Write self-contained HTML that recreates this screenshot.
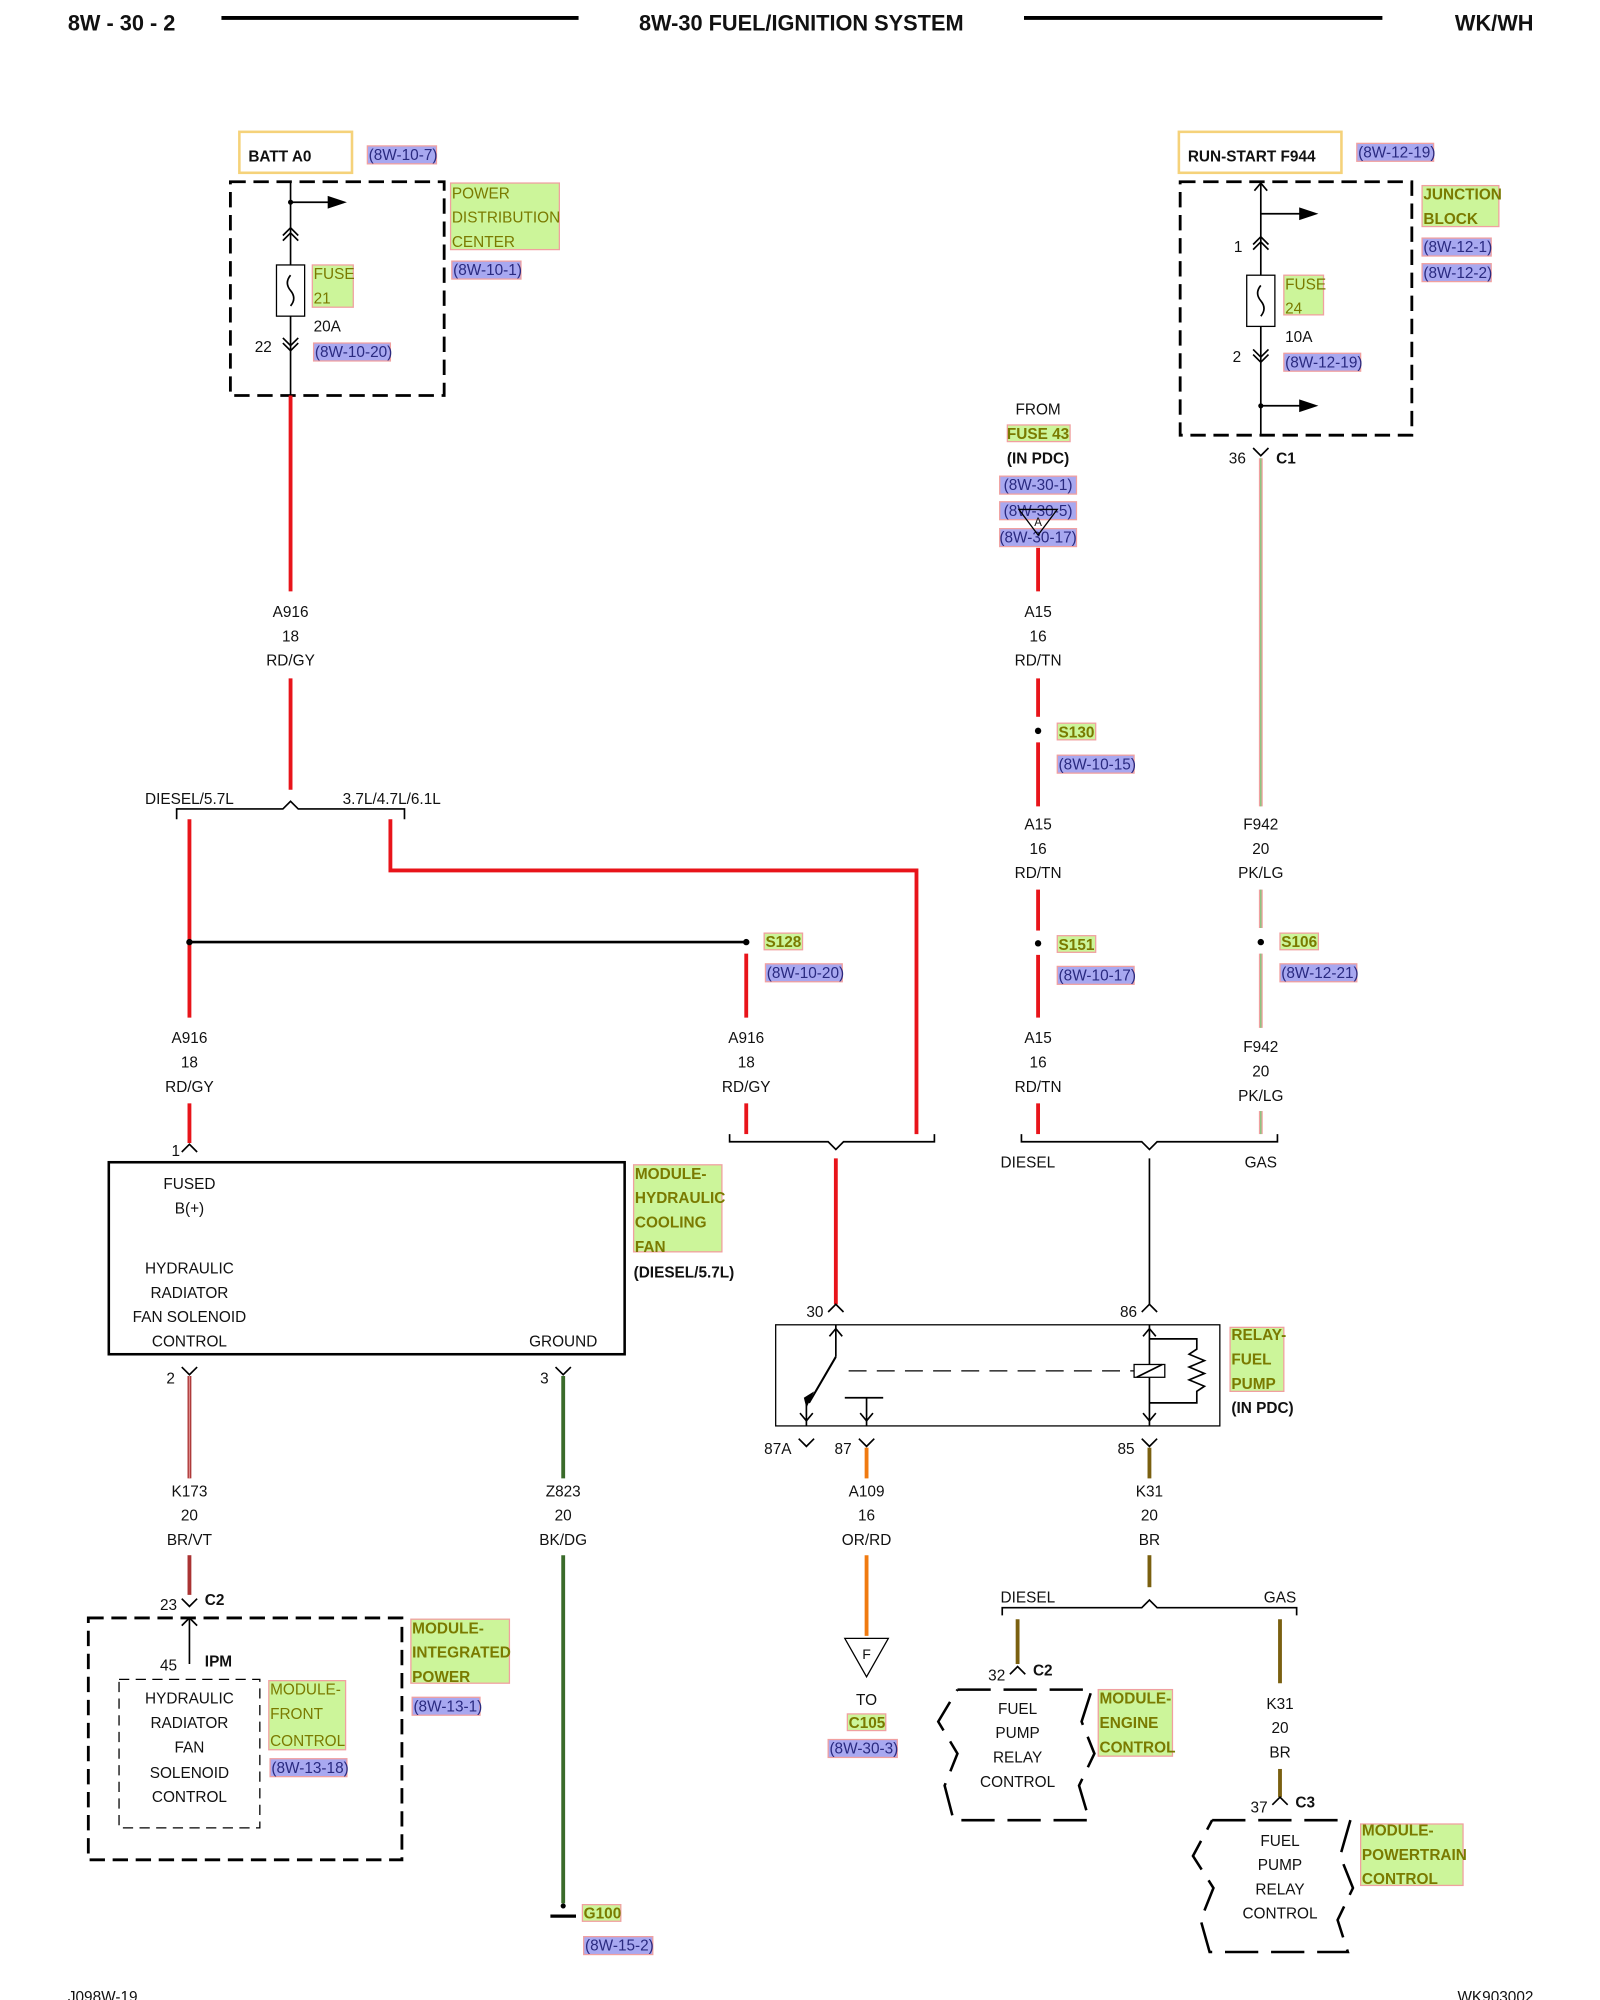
<!DOCTYPE html>
<html><head><meta charset="utf-8"><style>
html,body{margin:0;padding:0;background:#fff;}
svg{display:block;}
text{font-family:"Liberation Sans",sans-serif;font-size:12px;fill:#111;}
.b{font-weight:bold;}
.c{text-anchor:middle;}
.g{fill:#ccf59a;stroke:#f0a0a0;stroke-width:1;}
.p{fill:#a8a8f0;stroke:#f0a0a0;stroke-width:1;}
.gt{fill:#7a7a00;}
.pt{fill:#2a2a80;}
.blk{stroke:#000;stroke-width:1.3;fill:none;}
.dash{stroke:#000;stroke-width:2.2;fill:none;stroke-dasharray:12 6;}
.red{stroke:#e8141a;stroke-width:3;fill:none;}
</style></head><body>
<svg width="1600" height="2000" viewBox="0 0 1250 1562.5" xmlns="http://www.w3.org/2000/svg">
<!-- header -->
<text x="53" y="24" class="b" style="font-size:17px">8W - 30 - 2</text>
<line x1="173" y1="14" x2="452" y2="14" stroke="#000" stroke-width="3"/>
<text x="626" y="24" class="b c" style="font-size:17px">8W-30 FUEL/IGNITION SYSTEM</text>
<line x1="800" y1="14" x2="1080" y2="14" stroke="#000" stroke-width="3"/>
<text x="1198" y="24" class="b" style="font-size:17px;text-anchor:end">WK/WH</text>

<!-- LEFT TOP -->
<rect x="187" y="103" width="88" height="32" fill="none" stroke="#f5d27a" stroke-width="2"/>
<text x="194" y="126" class="b">BATT A0</text>
<rect x="287" y="114" width="54" height="14" class="p"/><text x="288" y="125" class="pt">(8W-10-7)</text>
<rect x="180" y="142" width="167" height="167" class="dash"/>
<rect x="352" y="143" width="85" height="52" class="g"/>
<text x="353" y="155" class="gt">POWER</text><text x="353" y="174" class="gt">DISTRIBUTION</text><text x="353" y="193" class="gt">CENTER</text>
<rect x="353" y="204" width="54" height="14" class="p"/><text x="354" y="215" class="pt">(8W-10-1)</text>
<line x1="227" y1="142" x2="227" y2="207" class="blk"/>
<line x1="227" y1="158" x2="260" y2="158" class="blk"/><polygon points="256,153 271,158 256,163"/>
<circle cx="227" cy="158" r="2"/>
<polyline points="221,184 227,178 233,184" class="blk"/><polyline points="221,188 227,182 233,188" class="blk"/>
<rect x="216" y="207" width="22" height="40" fill="#fff" stroke="#000"/>
<path d="M227 215 q-5 6 0 12 q5 6 0 12" class="blk"/>
<line x1="227" y1="247" x2="227" y2="309" class="blk"/>
<polyline points="221,264 227,270 233,264" class="blk"/><polyline points="221,268 227,274 233,268" class="blk"/>
<rect x="244" y="207" width="32" height="33" class="g"/><text x="245" y="218" class="gt">FUSE</text><text x="245" y="237" class="gt">21</text>
<text x="245" y="259">20A</text><text x="199" y="275">22</text>
<rect x="245" y="268" width="60" height="14" class="p"/><text x="246" y="279" class="pt">(8W-10-20)</text>

<line x1="227" y1="309" x2="227" y2="462" class="red"/>
<text x="227" y="482" class="c">A916</text><text x="227" y="501" class="c">18</text><text x="227" y="520" class="c">RD/GY</text>
<line x1="227" y1="530" x2="227" y2="617" class="red"/>
<polyline points="138,640 138,632 221,632 227,626 233,632 316,632 316,640" class="blk"/>
<text x="148" y="628" class="c">DIESEL/5.7L</text><text x="306" y="628" class="c">3.7L/4.7L/6.1L</text>
<line x1="148" y1="640" x2="148" y2="795" class="red"/>
<polyline points="305,640 305,680 716,680 716,886" class="red"/>
<line x1="148" y1="736" x2="583" y2="736" stroke="#000" stroke-width="2"/>
<circle cx="148" cy="736" r="2.5"/><circle cx="583" cy="736" r="2.5"/>
<rect x="597" y="729" width="30" height="13" class="g"/><text x="598" y="740" class="gt b">S128</text>
<rect x="598" y="753" width="60" height="14" class="p"/><text x="599" y="764" class="pt">(8W-10-20)</text>
<line x1="583" y1="745" x2="583" y2="795" class="red"/>
<text x="148" y="815" class="c">A916</text><text x="148" y="834" class="c">18</text><text x="148" y="853" class="c">RD/GY</text>
<text x="583" y="815" class="c">A916</text><text x="583" y="834" class="c">18</text><text x="583" y="853" class="c">RD/GY</text>
<line x1="148" y1="862" x2="148" y2="893" class="red"/>
<line x1="583" y1="862" x2="583" y2="886" class="red"/>
<polyline points="142,900 148,894 154,900" class="blk"/><text x="134" y="903">1</text>
<polyline points="570,886 570,892 647,892 653,898 659,892 730,892 730,886" class="blk"/>

<!-- hydraulic module -->
<rect x="85" y="908" width="403" height="150" fill="none" stroke="#000" stroke-width="2"/>
<text x="148" y="929" class="c">FUSED</text><text x="148" y="948" class="c">B(+)</text>
<text x="148" y="995" class="c">HYDRAULIC</text><text x="148" y="1014" class="c">RADIATOR</text>
<text x="148" y="1033" class="c">FAN SOLENOID</text><text x="148" y="1052" class="c">CONTROL</text>
<text x="440" y="1052" class="c">GROUND</text>
<rect x="495" y="910" width="69" height="68" class="g"/>
<text x="496" y="921" class="gt b">MODULE-</text><text x="496" y="940" class="gt b">HYDRAULIC</text><text x="496" y="959" class="gt b">COOLING</text><text x="496" y="978" class="gt b">FAN</text>
<text x="495" y="998" class="b">(DIESEL/5.7L)</text>

<polyline points="142,1068 148,1074 154,1068" class="blk"/><text x="130" y="1081">2</text>
<line x1="148" y1="1075" x2="148" y2="1155" stroke="#a33" stroke-width="3"/>
<line x1="148" y1="1075" x2="148" y2="1155" stroke="#d88" stroke-width="1"/>
<text x="148" y="1169" class="c">K173</text><text x="148" y="1188" class="c">20</text><text x="148" y="1207" class="c">BR/VT</text>
<line x1="148" y1="1215" x2="148" y2="1246" stroke="#a33" stroke-width="3"/>
<polyline points="142,1249 148,1255 154,1249" class="blk"/><text x="125" y="1258">23</text><text x="160" y="1254" class="b">C2</text>
<rect x="69" y="1264" width="245" height="189" class="dash"/>
<line x1="148" y1="1264" x2="148" y2="1300" class="blk"/><polyline points="142,1270 148,1264 154,1270" class="blk"/>
<text x="125" y="1305">45</text><text x="160" y="1302" class="b">IPM</text>
<rect x="93" y="1312" width="110" height="116" fill="none" stroke="#000" stroke-dasharray="8 5"/>
<text x="148" y="1331" class="c">HYDRAULIC</text><text x="148" y="1350" class="c">RADIATOR</text><text x="148" y="1369" class="c">FAN</text><text x="148" y="1389" class="c">SOLENOID</text><text x="148" y="1408" class="c">CONTROL</text>
<rect x="210" y="1313" width="60" height="54" class="g"/>
<text x="211" y="1324" class="gt">MODULE-</text><text x="211" y="1343" class="gt">FRONT</text><text x="211" y="1364" class="gt">CONTROL</text>
<rect x="211" y="1374" width="60" height="14" class="p"/><text x="212" y="1385" class="pt">(8W-13-18)</text>
<rect x="321" y="1265" width="77" height="50" class="g"/>
<text x="322" y="1276" class="gt b">MODULE-</text><text x="322" y="1295" class="gt b">INTEGRATED</text><text x="322" y="1314" class="gt b">POWER</text>
<rect x="322" y="1326" width="53" height="14" class="p"/><text x="323" y="1337" class="pt">(8W-13-1)</text>

<polyline points="434,1068 440,1074 446,1068" class="blk"/><text x="422" y="1081">3</text>
<line x1="440" y1="1075" x2="440" y2="1155" stroke="#3a6b2a" stroke-width="3"/>
<text x="440" y="1169" class="c">Z823</text><text x="440" y="1188" class="c">20</text><text x="440" y="1207" class="c">BK/DG</text>
<line x1="440" y1="1215" x2="440" y2="1487" stroke="#3a6b2a" stroke-width="3"/>
<line x1="430" y1="1497" x2="450" y2="1497" stroke="#000" stroke-width="2.5"/><circle cx="440" cy="1489" r="2"/>
<rect x="455" y="1488" width="30" height="13" class="g"/><text x="456" y="1499" class="gt b">G100</text>
<rect x="456" y="1513" width="54" height="14" class="p"/><text x="457" y="1524" class="pt">(8W-15-2)</text>

<!-- relay -->
<line x1="653" y1="905" x2="653" y2="1019" class="red"/>
<polyline points="647,1025 653,1019 659,1025" class="blk"/><text x="630" y="1029">30</text>
<line x1="898" y1="905" x2="898" y2="1019" class="blk"/>
<polyline points="892,1025 898,1019 904,1025" class="blk"/><text x="875" y="1029">86</text>
<polyline points="798,886 798,892 892,892 898,898 904,892 998,892 998,886" class="blk"/>
<text x="803" y="912" class="c">DIESEL</text><text x="985" y="912" class="c">GAS</text>
<rect x="606" y="1035" width="347" height="79" fill="none" stroke="#000"/>
<line x1="653" y1="1035" x2="653" y2="1060" class="blk"/><polyline points="648,1044 653,1038 658,1044" class="blk"/>
<line x1="653" y1="1060" x2="632" y2="1096" stroke="#000" stroke-width="1.6"/><polygon points="628,1092 636,1087 630,1100"/>
<line x1="630" y1="1096" x2="630" y2="1114" class="blk"/><polyline points="625,1104 630,1110 635,1104" class="blk"/>
<line x1="677" y1="1092" x2="677" y2="1114" class="blk"/><polyline points="672,1104 677,1110 682,1104" class="blk"/>
<line x1="660" y1="1092" x2="690" y2="1092" class="blk"/><circle cx="677" cy="1070" r="0"/>
<line x1="663" y1="1071" x2="886" y2="1071" stroke="#000" stroke-dasharray="14 8"/>
<line x1="898" y1="1035" x2="898" y2="1114" class="blk"/><polyline points="893,1044 898,1038 903,1044" class="blk"/><polyline points="893,1104 898,1110 903,1104" class="blk"/>
<rect x="886" y="1066" width="24" height="10" fill="#fff" stroke="#000"/><line x1="888" y1="1076" x2="908" y2="1066" class="blk"/>
<polyline points="898,1046 935,1046 935,1054 929,1058 941,1063 929,1068 941,1073 929,1078 941,1083 935,1087 935,1096 898,1096" class="blk"/>
<rect x="961" y="1037" width="42" height="50" class="g"/>
<text x="962" y="1047" class="gt b">RELAY-</text><text x="962" y="1066" class="gt b">FUEL</text><text x="962" y="1085" class="gt b">PUMP</text>
<text x="962" y="1104" class="b">(IN PDC)</text>
<polyline points="624,1124 630,1130 636,1124" class="blk"/><text x="597" y="1136">87A</text>
<polyline points="671,1124 677,1130 683,1124" class="blk"/><text x="652" y="1136">87</text>
<polyline points="892,1124 898,1130 904,1124" class="blk"/><text x="873" y="1136">85</text>
<line x1="677" y1="1131" x2="677" y2="1155" stroke="#f07a10" stroke-width="3"/>
<text x="677" y="1169" class="c">A109</text><text x="677" y="1188" class="c">16</text><text x="677" y="1207" class="c">OR/RD</text>
<line x1="677" y1="1215" x2="677" y2="1278" stroke="#f07a10" stroke-width="3"/>
<polygon points="660,1280 694,1280 677,1310" fill="#fff" stroke="#000"/><text x="677" y="1296" class="c" style="font-size:11px">F</text>
<text x="677" y="1332" class="c">TO</text>
<rect x="662" y="1339" width="30" height="13" class="g"/><text x="663" y="1350" class="gt b">C105</text>
<rect x="647" y="1359" width="54" height="14" class="p"/><text x="648" y="1370" class="pt">(8W-30-3)</text>

<line x1="898" y1="1131" x2="898" y2="1155" stroke="#7a6010" stroke-width="3"/>
<text x="898" y="1169" class="c">K31</text><text x="898" y="1188" class="c">20</text><text x="898" y="1207" class="c">BR</text>
<line x1="898" y1="1215" x2="898" y2="1240" stroke="#7a6010" stroke-width="3"/>
<polyline points="783,1262 783,1256 892,1256 898,1250 904,1256 1013,1256 1013,1262" class="blk"/>
<text x="803" y="1252" class="c">DIESEL</text><text x="1000" y="1252" class="c">GAS</text>
<line x1="795" y1="1265" x2="795" y2="1300" stroke="#7a6010" stroke-width="3"/>
<polyline points="789,1308 795,1302 801,1308" class="blk"/><text x="772" y="1313">32</text><text x="807" y="1309" class="b">C2</text>
<path d="M748 1320 L853 1320 L845 1345 L855 1370 L843 1395 L851 1422 L745 1422 L738 1395 L748 1370 L733 1345 L748 1320" fill="none" stroke="#000" stroke-width="2" stroke-dasharray="26 10"/>
<text x="795" y="1339" class="c">FUEL</text><text x="795" y="1358" class="c">PUMP</text><text x="795" y="1377" class="c">RELAY</text><text x="795" y="1396" class="c">CONTROL</text>
<rect x="858" y="1320" width="58" height="52" class="g"/>
<text x="859" y="1331" class="gt b">MODULE-</text><text x="859" y="1350" class="gt b">ENGINE</text><text x="859" y="1369" class="gt b">CONTROL</text>
<line x1="1000" y1="1265" x2="1000" y2="1315" stroke="#7a6010" stroke-width="3"/>
<text x="1000" y="1335" class="c">K31</text><text x="1000" y="1354" class="c">20</text><text x="1000" y="1373" class="c">BR</text>
<line x1="1000" y1="1382" x2="1000" y2="1404" stroke="#7a6010" stroke-width="3"/>
<polyline points="994,1410 1000,1404 1006,1410" class="blk"/><text x="977" y="1416">37</text><text x="1012" y="1412" class="b">C3</text>
<path d="M947 1422 L1055 1422 L1047 1450 L1057 1475 L1045 1500 L1053 1525 L945 1525 L938 1500 L948 1475 L932 1450 L947 1422" fill="none" stroke="#000" stroke-width="2" stroke-dasharray="26 10"/>
<text x="1000" y="1442" class="c">FUEL</text><text x="1000" y="1461" class="c">PUMP</text><text x="1000" y="1480" class="c">RELAY</text><text x="1000" y="1499" class="c">CONTROL</text>
<rect x="1063" y="1425" width="80" height="48" class="g"/>
<text x="1064" y="1434" class="gt b">MODULE-</text><text x="1064" y="1453" class="gt b">POWERTRAIN</text><text x="1064" y="1472" class="gt b">CONTROL</text>

<!-- A15 column -->
<text x="811" y="324" class="c">FROM</text>
<rect x="787" y="332" width="49" height="13" class="g"/><text x="811" y="343" class="c gt b">FUSE 43</text>
<text x="811" y="362" class="c b">(IN PDC)</text>
<rect x="781" y="372" width="60" height="14" class="p"/><text x="811" y="383" class="c pt">(8W-30-1)</text>
<rect x="781" y="392" width="60" height="14" class="p"/><text x="811" y="403" class="c pt">(8W-30-5)</text>
<rect x="781" y="413" width="60" height="14" class="p"/><text x="811" y="424" class="c pt">(8W-30-17)</text>
<polygon points="796,398 826,398 811,418" fill="none" stroke="#000"/><text x="811" y="411" class="c" style="font-size:9px">A</text>
<line x1="811" y1="428" x2="811" y2="462" class="red"/>
<text x="811" y="482" class="c">A15</text><text x="811" y="501" class="c">16</text><text x="811" y="520" class="c">RD/TN</text>
<line x1="811" y1="530" x2="811" y2="560" class="red"/><circle cx="811" cy="571" r="2.5"/>
<rect x="826" y="565" width="30" height="13" class="g"/><text x="827" y="576" class="gt b">S130</text>
<rect x="826" y="590" width="60" height="14" class="p"/><text x="827" y="601" class="pt">(8W-10-15)</text>
<line x1="811" y1="580" x2="811" y2="630" class="red"/>
<text x="811" y="648" class="c">A15</text><text x="811" y="667" class="c">16</text><text x="811" y="686" class="c">RD/TN</text>
<line x1="811" y1="695" x2="811" y2="727" class="red"/><circle cx="811" cy="737" r="2.5"/>
<rect x="826" y="731" width="30" height="13" class="g"/><text x="827" y="742" class="gt b">S151</text>
<rect x="826" y="755" width="60" height="14" class="p"/><text x="827" y="766" class="pt">(8W-10-17)</text>
<line x1="811" y1="746" x2="811" y2="795" class="red"/>
<text x="811" y="815" class="c">A15</text><text x="811" y="834" class="c">16</text><text x="811" y="853" class="c">RD/TN</text>
<line x1="811" y1="862" x2="811" y2="886" class="red"/>

<!-- RIGHT TOP -->
<rect x="921" y="103" width="127" height="32" fill="none" stroke="#f5d27a" stroke-width="2"/>
<text x="928" y="126" class="b">RUN-START F944</text>
<rect x="1060" y="112" width="60" height="14" class="p"/><text x="1061" y="123" class="pt">(8W-12-19)</text>
<rect x="922" y="142" width="181" height="198" class="dash"/>
<rect x="1111" y="145" width="60" height="32" class="g"/>
<text x="1112" y="156" class="gt b">JUNCTION</text><text x="1112" y="175" class="gt b">BLOCK</text>
<rect x="1111" y="186" width="54" height="14" class="p"/><text x="1112" y="197" class="pt">(8W-12-1)</text>
<rect x="1111" y="206" width="54" height="14" class="p"/><text x="1112" y="217" class="pt">(8W-12-2)</text>
<line x1="985" y1="142" x2="985" y2="215" class="blk"/><polyline points="980,149 985,143 990,149" class="blk"/>
<line x1="985" y1="167" x2="1018" y2="167" class="blk"/><polygon points="1015,162 1030,167 1015,172"/>
<polyline points="979,191 985,185 991,191" class="blk"/><polyline points="979,195 985,189 991,195" class="blk"/>
<text x="964" y="197">1</text>
<rect x="974" y="215" width="22" height="40" fill="#fff" stroke="#000"/>
<path d="M985 223 q-5 6 0 12 q5 6 0 12" class="blk"/>
<rect x="1003" y="215" width="31" height="31" class="g"/><text x="1004" y="226" class="gt">FUSE</text><text x="1004" y="245" class="gt">24</text>
<text x="1004" y="267">10A</text><text x="963" y="283">2</text>
<line x1="985" y1="255" x2="985" y2="340" class="blk"/>
<polyline points="979,273 985,279 991,273" class="blk"/><polyline points="979,277 985,283 991,277" class="blk"/>
<rect x="1003" y="276" width="60" height="14" class="p"/><text x="1004" y="287" class="pt">(8W-12-19)</text>
<line x1="985" y1="317" x2="1018" y2="317" class="blk"/><polygon points="1015,312 1030,317 1015,322"/><circle cx="985" cy="317" r="2"/>
<polyline points="979,350 985,356 991,350" class="blk"/><text x="960" y="362">36</text><text x="997" y="362" class="b">C1</text>
<line x1="985" y1="358" x2="985" y2="630" stroke="#f0a0a0" stroke-width="3"/>
<line x1="985" y1="358" x2="985" y2="630" stroke="#7acc7a" stroke-width="1"/>
<text x="985" y="648" class="c">F942</text><text x="985" y="667" class="c">20</text><text x="985" y="686" class="c">PK/LG</text>
<line x1="985" y1="695" x2="985" y2="725" stroke="#f0a0a0" stroke-width="3"/><line x1="985" y1="695" x2="985" y2="725" stroke="#7acc7a" stroke-width="1"/>
<circle cx="985" cy="736" r="2.5"/>
<rect x="1000" y="729" width="30" height="13" class="g"/><text x="1001" y="740" class="gt b">S106</text>
<rect x="1000" y="753" width="60" height="14" class="p"/><text x="1001" y="764" class="pt">(8W-12-21)</text>
<line x1="985" y1="745" x2="985" y2="803" stroke="#f0a0a0" stroke-width="3"/><line x1="985" y1="745" x2="985" y2="803" stroke="#7acc7a" stroke-width="1"/>
<text x="985" y="822" class="c">F942</text><text x="985" y="841" class="c">20</text><text x="985" y="860" class="c">PK/LG</text>
<line x1="985" y1="868" x2="985" y2="886" stroke="#f0a0a0" stroke-width="3"/><line x1="985" y1="868" x2="985" y2="886" stroke="#7acc7a" stroke-width="1"/>

<!-- footer -->
<text x="53" y="1564">J098W-19</text>
<text x="1198" y="1564" style="text-anchor:end">WK903002</text>
</svg>
</body></html>
